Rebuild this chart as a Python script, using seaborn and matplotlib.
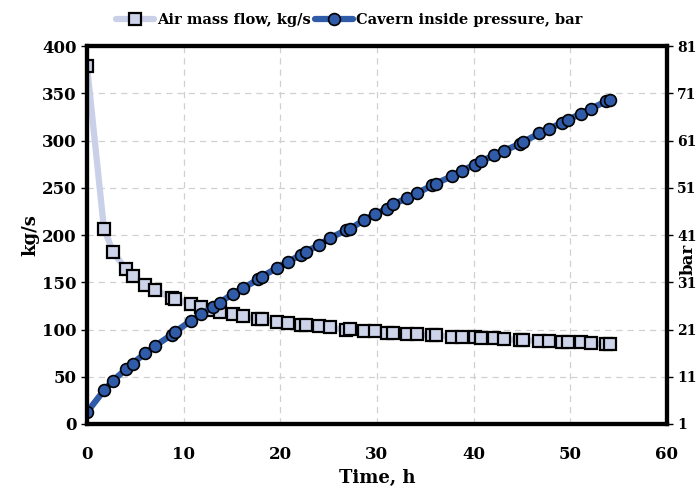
import matplotlib
matplotlib.use("Agg")
import matplotlib.pyplot as plt
import seaborn as sns
import pandas as pd

time_h = [0, 1.75, 2.7, 4.03, 4.72, 6.03, 7.03, 8.76, 9.1, 10.72, 11.76, 13.06, 13.75,
          15.1, 16.1, 17.7, 18.1, 19.7, 20.8, 22.1, 22.7, 24.0, 25.1, 26.85, 27.2, 28.7,
          29.8, 31.05, 31.7, 33.1, 34.1, 35.7, 36.1, 37.8, 38.8, 40.1, 40.8, 42.1, 43.1,
          44.8, 45.1, 46.8, 47.8, 49.1, 49.8, 51.1, 52.1, 53.7, 54.15]
mass_flow = [378.7, 206.6, 182, 163.7, 157, 147, 141.8, 133.7, 132.3, 127, 124.1, 121, 118.8,
             116.4, 114.3, 111.1, 111, 108.3, 107.2, 105.1, 104.4, 103.4, 102.3, 99.5, 100.2,
             98.8, 98.4, 96.6, 96.3, 95.6, 94.9, 93.8, 93.8, 92.4, 91.7, 91.7, 91.0, 90.6,
             89.6, 88.9, 88.9, 87.8, 87.8, 86.8, 86.8, 86.4, 85.4, 84.3, 84.3]
pressure = [3.5, 8.1, 10.2, 12.6, 13.8, 16.0, 17.5, 19.9, 20.5, 22.8, 24.2, 25.8, 26.7,
            28.6, 29.7, 31.6, 32.2, 34.1, 35.3, 36.8, 37.5, 38.9, 40.3, 42.1, 42.3, 44.2,
            45.4, 46.6, 47.5, 48.8, 49.8, 51.5, 51.9, 53.5, 54.6, 55.9, 56.6, 57.9, 58.8,
            60.3, 60.7, 62.5, 63.5, 64.7, 65.4, 66.7, 67.7, 69.3, 69.6]
x_ticks = [0, 10, 20, 30, 40, 50, 60]
left_ticks = [0, 50, 100, 150, 200, 250, 300, 350, 400]
right_ticks = [1, 11, 21, 31, 41, 51, 61, 71, 81]

sns.set_style("white")
plt.rcParams['font.family'] = ['DejaVu Serif']
plt.rcParams['font.weight'] = 'bold'
plt.rcParams['text.color'] = 'black'
plt.rcParams['axes.labelcolor'] = 'black'
plt.rcParams['xtick.color'] = 'black'
plt.rcParams['ytick.color'] = 'black'

df = pd.DataFrame({"t": time_h, "m": mass_flow, "p": pressure})

fig = plt.figure(figsize=(6.99, 4.9), dpi=100)
ax = fig.add_axes([0.1245, 0.1347, 0.8295, 0.7713])
ax2 = ax.twinx()

sns.lineplot(data=df, x="t", y="m", ax=ax, color="#c9d0e8", linewidth=4.5,
             marker="s", markersize=8.5, markerfacecolor="#cdd4ea",
             markeredgecolor="black", markeredgewidth=1.6,
             label="Air mass flow, kg/s", legend=False)
sns.lineplot(data=df, x="t", y="p", ax=ax2, color="#2f5ba8", linewidth=4.5,
             marker="o", markersize=8.5, markerfacecolor="#2f5ba8",
             markeredgecolor="black", markeredgewidth=1.2,
             label="Cavern inside pressure, bar", legend=False)

ax.set_xlim(0, 60)
ax.set_ylim(0, 400)
ax2.set_ylim(1, 81)
ax.set_xticks(x_ticks)
ax.set_yticks(left_ticks)
ax2.set_yticks(right_ticks)
ax.grid(True, color="#d0d0d0", linestyle=(0, (5, 4)), linewidth=0.9)
ax2.grid(False)

for a in (ax, ax2):
    for s in a.spines.values():
        s.set_linewidth(3)
        s.set_color("black")

ax.tick_params(axis="both", which="both", direction="out", length=4, width=1,
               labelsize=12, colors="black")
ax.tick_params(axis="x", pad=12)
ax2.tick_params(axis="y", direction="out", length=4, width=1, labelsize=10, colors="black")
for lbl in ax.get_xticklabels() + ax.get_yticklabels() + ax2.get_yticklabels():
    lbl.set_fontweight("bold")

ax.set_xlabel("Time, h", fontsize=13, fontweight="bold", labelpad=4, color="black")
ax.set_ylabel("kg/s", fontsize=13, fontweight="bold", labelpad=2, color="black")
ax2.set_ylabel("bar", fontsize=12, fontweight="bold", color="black")
ax2.yaxis.set_label_coords(1.022, 0.435)

h1, l1 = ax.get_legend_handles_labels()
h2, l2 = ax2.get_legend_handles_labels()
leg = fig.legend(h1 + h2, l1 + l2, loc="upper center", bbox_to_anchor=(0.5, 1.0), ncol=2,
                 frameon=False, handlelength=2.6, handletextpad=0.2,
                 columnspacing=0.3, prop={"weight": "bold", "size": 10.5})
for t in leg.get_texts():
    t.set_color("black")

fig.savefig("out.png", dpi=100)
